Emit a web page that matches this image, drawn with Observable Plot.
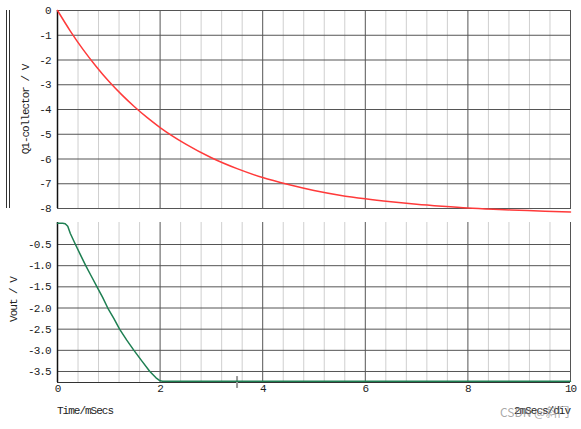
<!DOCTYPE html>
<html><head><meta charset="utf-8">
<script src="https://cdn.jsdelivr.net/npm/d3@7"></script>
<script src="https://cdn.jsdelivr.net/npm/@observablehq/plot@0.6"></script>
<style>
body{margin:0;background:#fff;}
#wrap{position:relative;width:581px;height:429px;font-family:"Liberation Mono",monospace;overflow:hidden;}
#top,#bot{position:absolute;left:0;}
#top{top:0px} #bot{top:212px}
.bracket{position:absolute;left:6px;top:10px;width:2px;height:198px;border-left:1px solid #333;border-right:1px solid #333;}
.note{position:absolute;font-size:11px;letter-spacing:-1px;color:#222;white-space:nowrap;}
.wm{position:absolute;font-family:"Noto Sans CJK SC","Noto Sans",sans-serif;font-size:12px;color:rgba(140,140,140,0.75);white-space:nowrap;}
</style></head><body>
<div id="wrap">
  <div class="bracket"></div>
  <div id="top"></div>
  <div id="bot"></div>
  <div class="note" style="left:57px;top:405px;">Time/mSecs</div>
  <div class="note" style="right:11px;top:405px;">2mSecs/div</div>
  <div class="wm" style="left:500px;top:403px;">CSDN @斜门</div>
</div>
<script>
// Time axis
const xDomain = [0, 10];
const majorTicksX = [0, 2, 4, 6, 8, 10];
const minorTicksX = [0.4, 0.8, 1.2, 1.6, 2.4, 2.8, 3.2, 3.6, 4.4, 4.8, 5.2, 5.6, 6.4, 6.8, 7.2, 7.6, 8.4, 8.8, 9.2, 9.6];

// Top panel: Q1-collector / V
const topLabel = "Q1-collector / V";
const topDomain = [-8, 0];
const topTicks = [0, -1, -2, -3, -4, -5, -6, -7, -8];
const topT = [0, 0.25, 0.5, 0.75, 1, 1.25, 1.5, 1.75, 2, 2.5, 3, 3.5, 4, 4.5, 5, 5.5, 6, 6.5, 7, 7.5, 8, 8.5, 9, 9.5, 10];
const topV = [0, -0.83, -1.58, -2.25, -2.86, -3.40, -3.89, -4.33, -4.73, -5.40, -5.95, -6.39, -6.75, -7.03, -7.27, -7.46, -7.61, -7.73, -7.83, -7.91, -7.98, -8.03, -8.07, -8.11, -8.14];

// Bottom panel: Vout / V
const botLabel = "Vout / V";
const botDomain = [-3.76, 0.02];
const botTicks = [-0.5, -1.0, -1.5, -2.0, -2.5, -3.0, -3.5];
const botT = [0, 0.1, 0.15, 0.2, 0.25, 0.35, 0.45, 0.55, 0.66, 0.77, 0.88, 0.98, 1.1, 1.21, 1.35, 1.49, 1.65, 1.8, 1.92, 2.0, 2.05, 3, 4, 5, 6, 7, 8, 9, 10];
const botV = [0, 0, -0.01, -0.07, -0.24, -0.5, -0.75, -1.0, -1.25, -1.5, -1.75, -2.0, -2.25, -2.5, -2.76, -3.0, -3.26, -3.5, -3.65, -3.72, -3.73, -3.73, -3.73, -3.73, -3.73, -3.73, -3.73, -3.73, -3.73];

// Cursor marker
const cursorT = [3.5];
const cursorSpan = [-3.62, -3.9];

const topData = topT.map((t, i) => ({t, v: topV[i]}));
const botData = botT.map((t, i) => ({t, v: botV[i]}));

const baseStyle = {fontFamily: "'Liberation Mono', monospace", fontSize: "11px", color: "#222", letterSpacing: "-1px", background: "transparent", overflow: "visible"};

const topPlot = Plot.plot({
  width: 581, height: 222,
  marginTop: 10, marginBottom: 14, marginLeft: 57, marginRight: 11,
  style: baseStyle,
  x: {domain: xDomain, axis: null},
  y: {domain: topDomain, axis: null},
  marks: [
    Plot.gridX(minorTicksX, {stroke: "#cfcfcf", strokeOpacity: 1}),
    Plot.gridX(majorTicksX, {stroke: "#555", strokeOpacity: 1}),
    Plot.gridY(topTicks, {stroke: "#555", strokeOpacity: 1}),
    Plot.frame({stroke: "#555"}),
    Plot.ruleX([xDomain[0]], {stroke: "#111", strokeWidth: 1.5}),
    Plot.axisY(topTicks, {tickSize: 0, tickPadding: 7, tickFormat: d => String(d), label: null}),
    Plot.text([topLabel], {text: d => d, frameAnchor: "left", textAnchor: "middle", rotate: -90, dx: -32, fill: "#222"}),
    Plot.line(topData, {x: "t", y: "v", stroke: "#ff3a3a", strokeWidth: 1.5, curve: "monotone-x", clip: false})
  ]
});
document.getElementById("top").append(topPlot);

const botPlot = Plot.plot({
  width: 581, height: 188,
  marginTop: 10, marginBottom: 18, marginLeft: 57, marginRight: 11,
  style: baseStyle,
  x: {domain: xDomain, axis: null},
  y: {domain: botDomain, axis: null},
  marks: [
    Plot.gridX(minorTicksX, {stroke: "#cfcfcf", strokeOpacity: 1}),
    Plot.gridX(majorTicksX, {stroke: "#555", strokeOpacity: 1}),
    Plot.gridY(botTicks, {stroke: "#555", strokeOpacity: 1}),
    Plot.ruleY([botDomain[0]], {stroke: "#333"}),
    Plot.ruleX([xDomain[1]], {stroke: "#555"}),
    Plot.ruleX([xDomain[0]], {stroke: "#111", strokeWidth: 1.5}),
    Plot.axisY(botTicks, {tickSize: 0, tickPadding: 7, tickFormat: d => d.toFixed(1), label: null}),
    Plot.axisX(majorTicksX, {tickSize: 0, tickPadding: 2, tickFormat: d => String(d), label: null}),
    Plot.text([botLabel], {text: d => d, frameAnchor: "left", textAnchor: "middle", rotate: -90, dx: -44, dy: -3, fill: "#222"}),
    Plot.ruleX(cursorT, {y1: cursorSpan[0], y2: cursorSpan[1], stroke: "#999", strokeWidth: 2}),
    Plot.line(botData, {x: "t", y: "v", stroke: "#1e7f52", strokeWidth: 1.5, clip: false})
  ]
});
document.getElementById("bot").append(botPlot);
</script>
</body></html>
